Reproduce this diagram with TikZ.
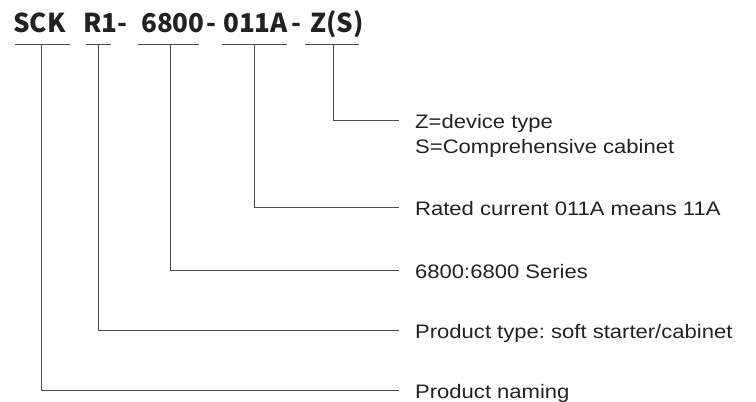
\documentclass[tikz,border=0pt]{standalone}
\usepackage{fontspec}
\setmainfont{Liberation Sans}[FakeStretch=1.13]
\newfontfamily\codefont{Noto Sans CJK SC}
\frenchspacing
\definecolor{linegray}{HTML}{4A4A4A}
\definecolor{textgray}{HTML}{222222}
\tikzset{
  bar/.style={draw=linegray, line width=0.9pt},
  lead/.style={draw=linegray, line width=0.9pt, shorten >=14pt},
  code/.style={anchor=base west, inner sep=0pt, text=textgray,
    font=\codefont\bfseries\fontsize{26}{26}\selectfont},
  desc/.style={anchor=base west, inner sep=0pt, text=textgray,
    font=\fontsize{19.5}{19.5}\selectfont},
}
\begin{document}
\begin{tikzpicture}[x=1pt, y=-1pt]
    \useasboundingbox (0, 0) rectangle (756, 402);
    % model code
    \node[code] (sck) at (13, 32) {SCK};
    \node[code] (r1) at (83, 32) {R1-};
    \node[code] (series) at (141, 32) {6800};
    \node[code] (dashb) at (206, 32) {-};
    \node[code] (current) at (223, 32) {011A};
    \node[code] (dashc) at (291, 32) {-};
    \node[code] (type) at (310, 32) {Z(S)};
    % bars under the code
    \draw[bar] (15, 44.5) -- (70, 44.5);
    \draw[bar] (86, 44.5) -- (111, 44.5);
    \draw[bar] (138, 44.5) -- (199, 44.5);
    \draw[bar] (222, 44.5) -- (287, 44.5);
    \draw[bar] (305, 44.5) -- (359, 44.5);
    \coordinate (sckbar) at (41.7, 44.5);
    \coordinate (r1bar) at (98.7, 44.5);
    \coordinate (seriesbar) at (170.7, 44.5);
    \coordinate (currentbar) at (254, 44.5);
    \coordinate (typebar) at (333.7, 44.5);
    % descriptions
    \node[desc] (typedesc) at (415, 128.5) {Z=device type};
    \node[desc] (cabinetdesc) at (415, 153) {S=Comprehensive cabinet};
    \node[desc] (currentdesc) at (415, 215) {Rated current 011A means 11A};
    \node[desc] (seriesdesc) at (415, 278) {6800:6800 Series};
    \node[desc] (r1desc) at (415, 338) {Product type: soft starter/cabinet};
    \node[desc] (sckdesc) at (415, 398) {Product naming};
    \coordinate (typeend) at (413, 120.7);
    \coordinate (currentend) at (413, 207.7);
    \coordinate (seriesend) at (413, 270.7);
    \coordinate (r1end) at (413, 330.7);
    \coordinate (sckend) at (413, 390.7);
    % leaders
    \draw[lead] (typebar) |- (typeend);
    \draw[lead] (currentbar) |- (currentend);
    \draw[lead] (seriesbar) |- (seriesend);
    \draw[lead] (r1bar) |- (r1end);
    \draw[lead] (sckbar) |- (sckend);
  \end{tikzpicture}
\end{document}
